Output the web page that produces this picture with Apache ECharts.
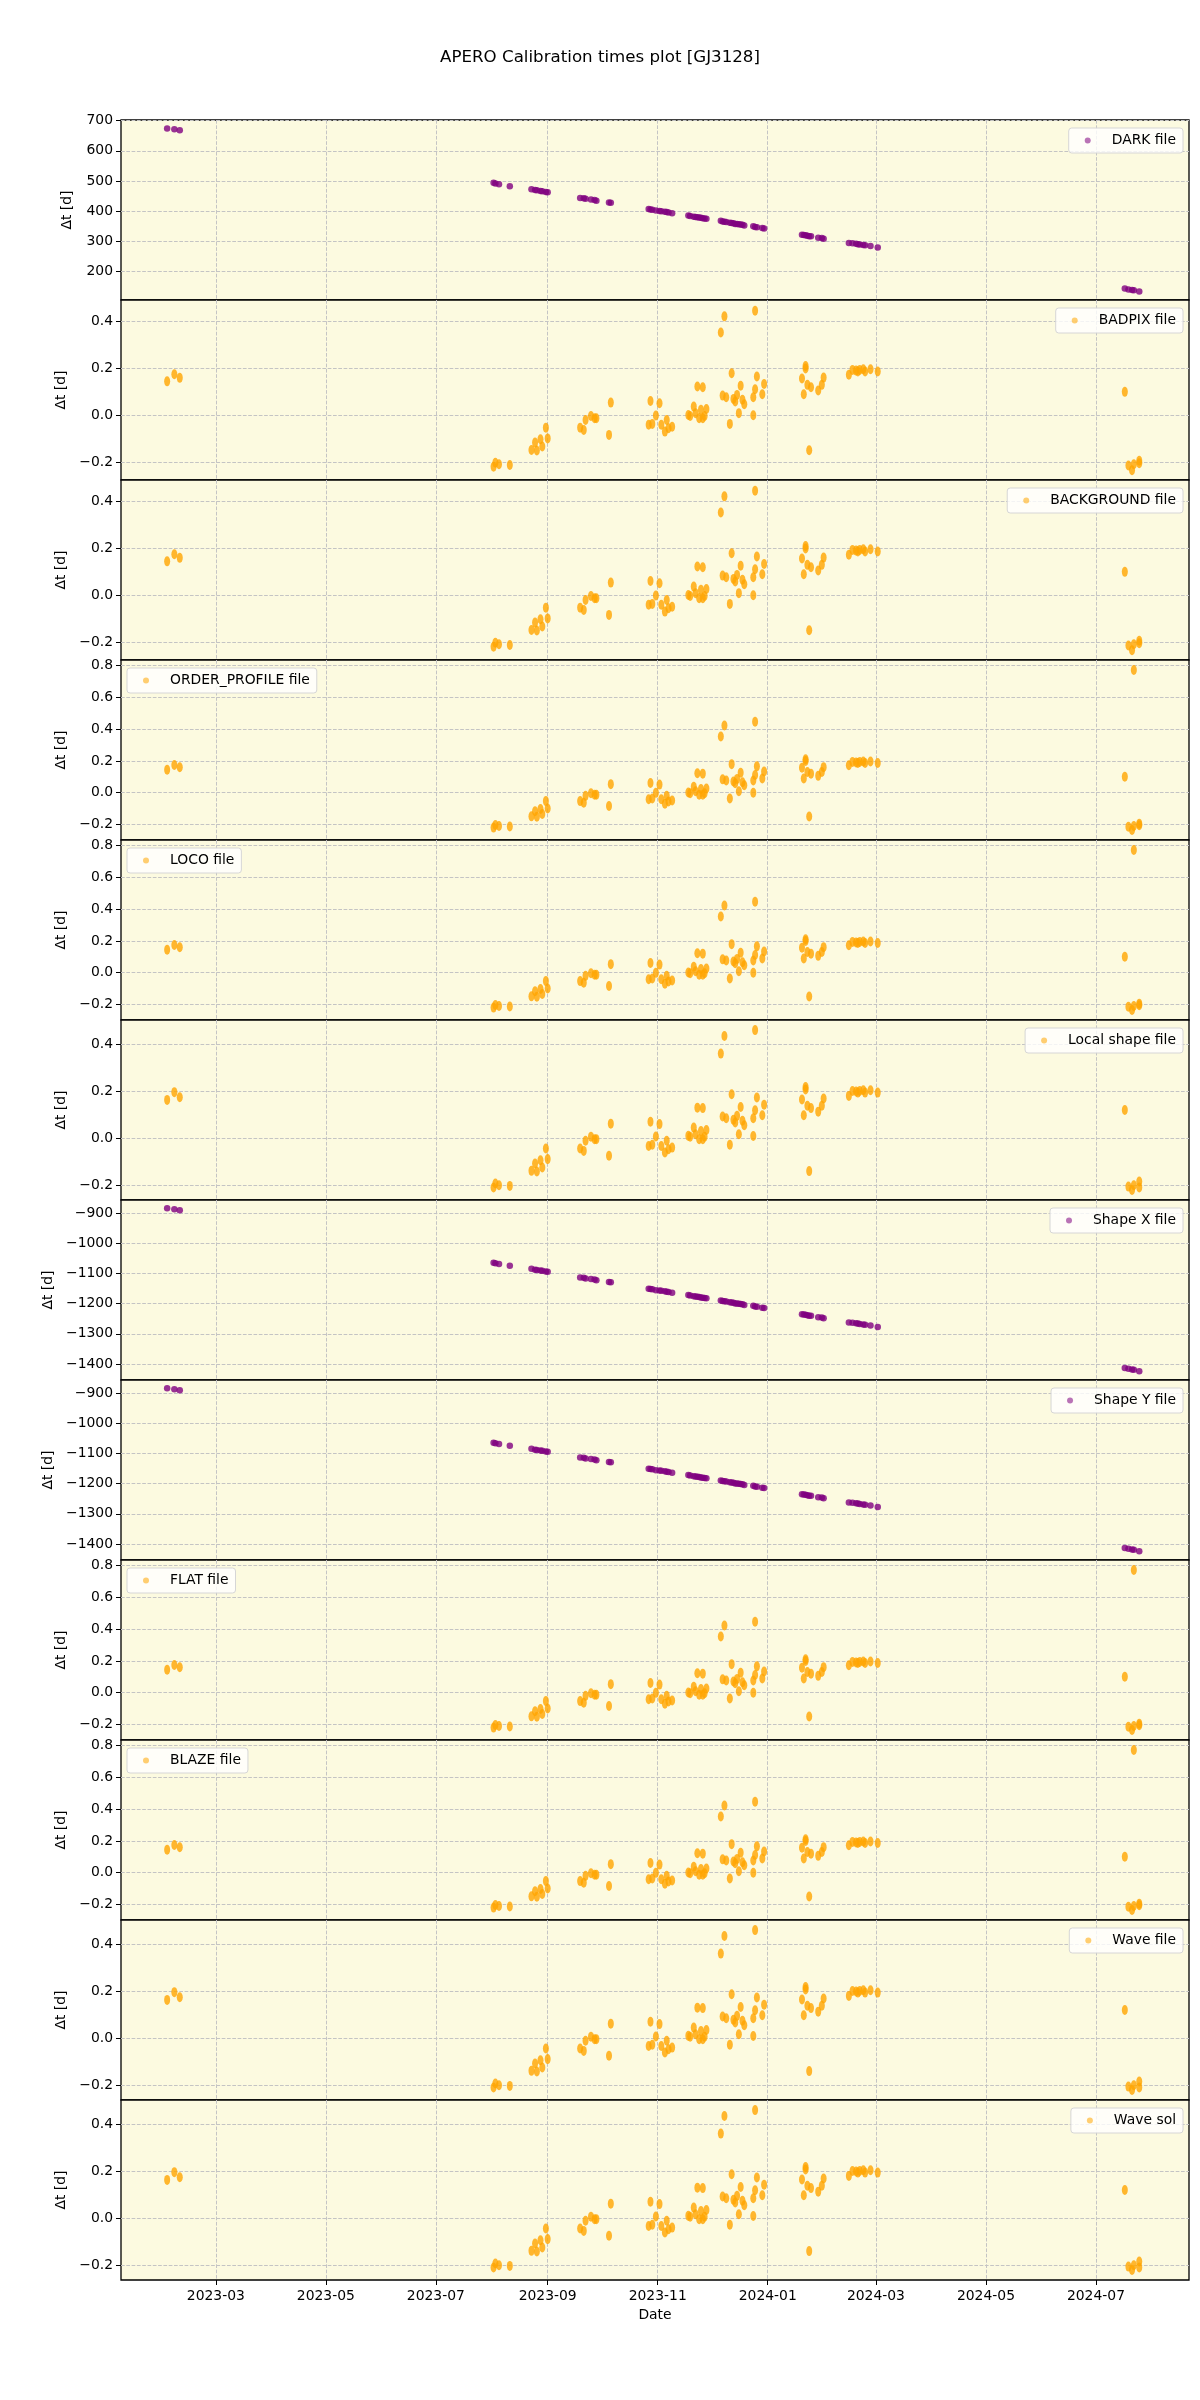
<!DOCTYPE html>
<html><head><meta charset="utf-8">
<script src="https://cdn.jsdelivr.net/npm/echarts@6/dist/echarts.min.js"></script>
<style>html,body{margin:0;padding:0;background:#fff}#c{width:1200px;height:2400px}</style>
</head><body><div id="c"></div>
<script>
const titleText = 'APERO Calibration times plot [GJ3128]';
const xTickLabels = ['2023-03','2023-05','2023-07','2023-09','2023-11','2024-01','2024-03','2024-05','2024-07'];

// nights with DARK / Shape calibrations (purple panels)
const darkDates = [
 '2023-02-02','2023-02-06','2023-02-09',
 '2023-08-02','2023-08-03','2023-08-05','2023-08-11','2023-08-23','2023-08-25','2023-08-26','2023-08-28','2023-08-29','2023-08-31','2023-09-01',
 '2023-09-19','2023-09-21','2023-09-22','2023-09-25','2023-09-27','2023-09-28','2023-10-05','2023-10-06',
 '2023-10-27','2023-10-28','2023-10-29','2023-10-31','2023-11-02','2023-11-03','2023-11-05','2023-11-06','2023-11-07','2023-11-09',
 '2023-11-18','2023-11-19','2023-11-21','2023-11-22','2023-11-23','2023-11-24','2023-11-25','2023-11-26','2023-11-27','2023-11-28',
 '2023-12-06','2023-12-07','2023-12-08','2023-12-09','2023-12-11','2023-12-12','2023-12-13','2023-12-14','2023-12-15','2023-12-16','2023-12-17','2023-12-18','2023-12-19',
 '2023-12-24','2023-12-25','2023-12-26','2023-12-29','2023-12-30',
 '2024-01-20','2024-01-21','2024-01-22','2024-01-23','2024-01-24','2024-01-25','2024-01-29','2024-01-31','2024-02-01',
 '2024-02-15','2024-02-17','2024-02-19','2024-02-20','2024-02-21','2024-02-23','2024-02-24','2024-02-27','2024-03-02',
 '2024-07-17','2024-07-19','2024-07-21','2024-07-22','2024-07-25'
];
const darkValues = [
 674,671,668,
 494,492,489,483,473,470,469,467,466,464,463,
 444,443,441,439,437,435,429,428,
 407,406,405,402,401,400,398,397,396,393,
 386,384,382,381,380,379,378,377,376,375,
 368,366,365,364,362,361,360,358,358,357,356,355,353,
 350,348,347,344,343,
 322,321,320,319,317,317,312,311,309,
 295,294,292,291,290,288,287,285,280,
 144,141,139,138,134
];
const shapeValues = [
 -883,-887,-890,
 -1064,-1066,-1068,-1074,-1084,-1087,-1088,-1090,-1091,-1093,-1094,
 -1113,-1114,-1116,-1118,-1120,-1122,-1128,-1129,
 -1150,-1151,-1152,-1155,-1156,-1157,-1159,-1160,-1161,-1164,
 -1171,-1173,-1175,-1176,-1177,-1178,-1179,-1180,-1181,-1182,
 -1189,-1191,-1192,-1193,-1195,-1196,-1197,-1199,-1199,-1200,-1201,-1202,-1204,
 -1207,-1209,-1210,-1213,-1214,
 -1235,-1236,-1237,-1238,-1240,-1240,-1245,-1246,-1248,
 -1262,-1263,-1265,-1266,-1267,-1269,-1270,-1272,-1277,
 -1413,-1416,-1418,-1419,-1424
];

// nightly calibrations (orange panels)
const calDates = [
 '2023-02-02','2023-02-06','2023-02-09',
 '2023-08-02','2023-08-03','2023-08-05','2023-08-11','2023-08-23','2023-08-25','2023-08-26','2023-08-28','2023-08-29','2023-08-31','2023-09-01',
 '2023-09-19','2023-09-21','2023-09-22','2023-09-25','2023-09-27','2023-09-28','2023-10-05','2023-10-06',
 '2023-10-27','2023-10-28','2023-10-29','2023-10-31','2023-11-02','2023-11-03','2023-11-05','2023-11-06','2023-11-07','2023-11-09',
 '2023-11-18','2023-11-19','2023-11-21','2023-11-22','2023-11-23','2023-11-24','2023-11-25','2023-11-26','2023-11-26','2023-11-27','2023-11-28',
 '2023-12-06','2023-12-07','2023-12-08','2023-12-09','2023-12-11','2023-12-12','2023-12-13','2023-12-14','2023-12-15','2023-12-16','2023-12-17','2023-12-18','2023-12-19',
 '2023-12-24','2023-12-24','2023-12-25','2023-12-25','2023-12-26','2023-12-29','2023-12-30',
 '2024-01-20','2024-01-21','2024-01-22','2024-01-22','2024-01-23','2024-01-24','2024-01-25','2024-01-29','2024-01-31','2024-02-01',
 '2024-02-15','2024-02-17','2024-02-19','2024-02-20','2024-02-21','2024-02-23','2024-02-24','2024-02-27','2024-03-02',
 '2024-07-17','2024-07-19','2024-07-21','2024-07-22','2024-07-25','2024-07-25'
];
// BADPIX / BACKGROUND / ORDER_PROFILE / LOCO / FLAT / BLAZE
const calValues = [
 0.145,0.175,0.160,
 -0.220,-0.203,-0.210,-0.213,-0.149,-0.117,-0.151,-0.103,-0.134,-0.053,-0.099,
 -0.053,-0.063,-0.020,-0.003,-0.013,-0.013,-0.084,0.054,
 -0.041,0.061,-0.037,-0.001,0.051,-0.041,-0.070,-0.020,-0.056,-0.049,
 0.001,-0.003,0.037,0.009,0.123,-0.013,0.023,-0.013,0.120,-0.003,0.027,
 0.354,0.084,0.423,0.077,-0.037,0.180,0.070,0.059,0.087,0.009,0.126,0.066,0.047,
 0.000,0.077,0.447,0.111,0.166,0.090,0.134,
 0.157,0.090,0.211,0.200,0.130,-0.150,0.120,0.106,0.130,0.161,
 0.173,0.194,0.191,0.187,0.194,0.197,0.187,0.197,0.187,
 0.100,-0.215,-0.235,-0.210,-0.205,-0.195
];
// extra point seen in ORDER_PROFILE / LOCO / FLAT / BLAZE
const opExtraDates = ['2024-07-22'];
const opExtraValues = [0.773];
// Local shape / Wave file / Wave sol
const locValues = [
 0.163,0.196,0.174,
 -0.210,-0.193,-0.200,-0.203,-0.139,-0.108,-0.142,-0.094,-0.125,-0.044,-0.089,
 -0.044,-0.054,-0.011,0.006,-0.004,-0.004,-0.075,0.062,
 -0.033,0.070,-0.028,0.007,0.060,-0.033,-0.061,-0.011,-0.047,-0.040,
 0.010,0.006,0.045,0.017,0.130,-0.004,0.031,-0.004,0.128,0.006,0.035,
 0.360,0.092,0.435,0.085,-0.028,0.187,0.078,0.067,0.095,0.017,0.133,0.074,0.055,
 0.009,0.085,0.460,0.119,0.173,0.098,0.142,
 0.165,0.098,0.218,0.207,0.138,-0.140,0.128,0.113,0.138,0.169,
 0.180,0.201,0.199,0.194,0.201,0.204,0.194,0.204,0.194,
 0.120,-0.206,-0.220,-0.200,-0.184,-0.210
];

const darkTicks = [200,300,400,500,600,700];
const shapeTicks = [-1400,-1300,-1200,-1100,-1000,-900];
const smallTicks = [-0.2,0,0.2,0.4];
const opTicks = [-0.2,0,0.2,0.4,0.6,0.8];

const T = s => Date.parse(s + 'T00:00:00Z');
const pairs = (ds, vs) => ds.map((d, i) => [T(d), vs[i]]);
const dataByKind = {
  dark: pairs(darkDates, darkValues),
  shape: pairs(darkDates, shapeValues),
  cal: pairs(calDates, calValues),
  op: pairs(calDates, calValues).concat(pairs(opExtraDates, opExtraValues)),
  loc: pairs(calDates, locValues)
};

const PURPLE = '#800080', ORANGE = '#FFA500';
const panels = [
  {name:'DARK file', kind:'dark', ylim:[106,702], ticks:darkTicks, leg:'right', dec:false},
  {name:'BADPIX file', kind:'cal', ylim:[-0.277,0.493], ticks:smallTicks, leg:'right', dec:true},
  {name:'BACKGROUND file', kind:'cal', ylim:[-0.277,0.493], ticks:smallTicks, leg:'right', dec:true},
  {name:'ORDER_PROFILE file', kind:'op', ylim:[-0.298,0.836], ticks:opTicks, leg:'left', dec:true},
  {name:'LOCO file', kind:'op', ylim:[-0.298,0.836], ticks:opTicks, leg:'left', dec:true},
  {name:'Local shape file', kind:'loc', ylim:[-0.263,0.503], ticks:smallTicks, leg:'right', dec:true},
  {name:'Shape X file', kind:'shape', ylim:[-1453,-856], ticks:shapeTicks, leg:'right', dec:false},
  {name:'Shape Y file', kind:'shape', ylim:[-1453,-856], ticks:shapeTicks, leg:'right', dec:false},
  {name:'FLAT file', kind:'op', ylim:[-0.298,0.836], ticks:opTicks, leg:'left', dec:true},
  {name:'BLAZE file', kind:'op', ylim:[-0.298,0.836], ticks:opTicks, leg:'left', dec:true},
  {name:'Wave file', kind:'loc', ylim:[-0.263,0.503], ticks:smallTicks, leg:'right', dec:true},
  {name:'Wave sol', kind:'loc', ylim:[-0.263,0.503], ticks:smallTicks, leg:'right', dec:true}
];

const FONT = 'DejaVu Sans';
const FS = 13.9;
const TOP0 = 120, PH = 180, LEFT = 121, PW = 1068;
const BG = '#FCFAE0';
const GRIDLINE = {show:true, lineStyle:{color:'#c4c4c4', width:1, type:[3.7,1.6]}};
const xMin = Date.parse('2023-01-07T10:00:00Z'), xMax = Date.parse('2024-08-21T14:00:00Z');
const xTicks = xTickLabels.map(l => T(l + '-01'));
const fmtX = v => { const d = new Date(v); return d.getUTCFullYear() + '-' + String(d.getUTCMonth()+1).padStart(2,'0'); };
const fmtY = (v, dec) => (dec ? v.toFixed(1) : String(Math.round(v))).replace('-', '\u2212');
const ELLIPSE = 'path://M0,-1A1,1 0 1 1 0,1A1,1 0 1 1 0,-1Z';
const isPurple = p => p.kind === 'dark' || p.kind === 'shape';

// legend boxes (matplotlib-like) drawn as graphics
const mctx = document.createElement('canvas').getContext('2d');
mctx.font = FS + 'px "' + FONT + '"';
const legendGraphics = [];
panels.forEach((p, i) => {
  const tw = mctx.measureText(p.name).width;
  const w = 43 + tw + 7, h = 25;
  const x = p.leg === 'left' ? LEFT + 6 : LEFT + PW - 6 - w;
  const y = TOP0 + PH * i + 8;
  legendGraphics.push(
    {type:'rect', shape:{x:x, y:y, width:w, height:h, r:3}, style:{fill:'rgba(255,255,255,0.8)', stroke:'#d6d6d6', lineWidth:1}, z:100},
    {type:'circle', shape:{cx:x + 19, cy:y + h/2, r:3}, style:{fill:isPurple(p) ? PURPLE : ORANGE, opacity:0.55}, z:101},
    {type:'text', x:x + 43, y:y + h/2, style:{text:p.name, font:FS + 'px "' + FONT + '"', fill:'#000', verticalAlign:'middle', align:'left'}, z:101}
  );
});

const n = panels.length;
const option = {
  animation: false,
  backgroundColor: '#fff',
  title: {text: titleText, left: 'center', top: 44, textStyle:{fontFamily:FONT, fontSize:16.67, fontWeight:'normal', color:'#000'}},
  grid: panels.map((p, i) => ({left: LEFT, width: PW, top: TOP0 + PH*i, height: PH, show: true,
    backgroundColor: BG, borderColor: '#000', borderWidth: 1.3})),
  xAxis: panels.map((p, i) => {
    const last = i === n - 1;
    return {
      type:'value', gridIndex:i, min:xMin, max:xMax, scale:true, position:'bottom',
      axisLine:{show:false, onZero:false},
      axisTick:{show:last, customValues:xTicks, length:5, lineStyle:{color:'#000'}},
      axisLabel:{show:last, customValues:xTicks, formatter:fmtX, margin:9, fontFamily:FONT, fontSize:FS, color:'#000'},
      splitLine: GRIDLINE,
      name: last ? 'Date' : '', nameLocation:'middle', nameGap:28,
      nameTextStyle:{fontFamily:FONT, fontSize:FS, color:'#000'}
    };
  }),
  yAxis: panels.map((p, i) => ({
    type:'value', gridIndex:i, min:p.ylim[0], max:p.ylim[1], position:'left',
    axisLine:{show:false, onZero:false},
    axisTick:{show:true, customValues:p.ticks, length:5, lineStyle:{color:'#000'}},
    axisLabel:{customValues:p.ticks, formatter:v => fmtY(v, p.dec), margin:8, fontFamily:FONT, fontSize:FS, color:'#000'},
    splitLine: GRIDLINE,
    name:'\u0394t [d]', nameLocation:'middle', nameRotate:90, nameGap:47,
    nameTextStyle:{fontFamily:FONT, fontSize:FS, color:'#000'}
  })),
  graphic: legendGraphics,
  series: panels.map((p, i) => {
    const purple = isPurple(p);
    return {
      name:p.name, type:'scatter', xAxisIndex:i, yAxisIndex:i,
      data: dataByKind[p.kind],
      symbol: purple ? 'circle' : ELLIPSE,
      symbolSize: purple ? 6.5 : [6, 10],
      itemStyle:{color: purple ? PURPLE : ORANGE, opacity: 0.8},
      emphasis:{disabled:true}
    };
  })
};
const chart = echarts.init(document.getElementById('c'), null, {renderer:'canvas'});
chart.setOption(option);
</script>
</body></html>
